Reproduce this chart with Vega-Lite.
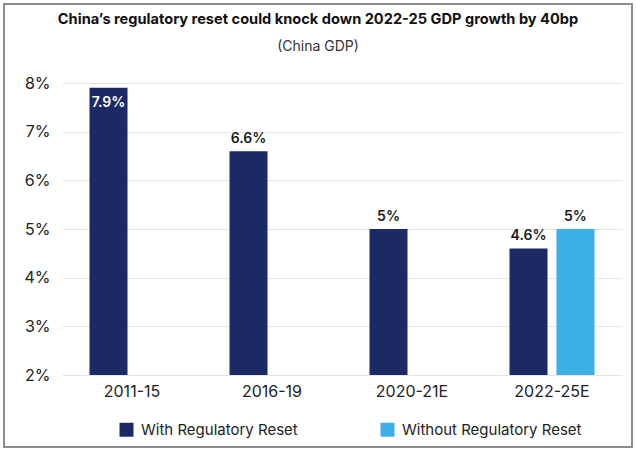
{
  "$schema": "https://vega.github.io/schema/vega-lite/v6.json",
  "width": 628,
  "height": 443,
  "autosize": {"type": "none"},
  "padding": {"left": 4, "top": 4, "right": 4, "bottom": 4},
  "background": "#ffffff",
  "config": {
    "view": {"stroke": "#8c8c8c", "strokeWidth": 2},
    "font": "Inter"
  },
  "title": {
    "text": "China’s regulatory reset could knock down 2022-25 GDP growth by 40bp",
    "subtitle": "(China GDP)",
    "anchor": "middle",
    "frame": "group",
    "offset": -50,
    "font": "Inter",
    "fontSize": 14.6,
    "fontWeight": "bold",
    "color": "#111111",
    "subtitleFont": "Inter",
    "subtitleFontSize": 14,
    "subtitleColor": "#333333",
    "subtitlePadding": 13
  },
  "data": {
    "values": [
      {"period": "2011-15", "series": "With Regulatory Reset", "value": 7.9, "label": "7.9%"},
      {"period": "2016-19", "series": "With Regulatory Reset", "value": 6.6, "label": "6.6%"},
      {"period": "2020-21E", "series": "With Regulatory Reset", "value": 5, "label": "5%"},
      {"period": "2022-25E", "series": "With Regulatory Reset", "value": 4.6, "label": "4.6%"},
      {"period": "2022-25E", "series": "Without Regulatory Reset", "value": 5, "label": "5%"}
    ]
  },
  "encoding": {
    "x": {
      "field": "period",
      "type": "nominal",
      "sort": ["2011-15", "2016-19", "2020-21E", "2022-25E"],
      "scale": {"range": [58, 618], "paddingInner": 0.393, "paddingOuter": 0.1965},
      "axis": {
        "title": null,
        "orient": "bottom",
        "offset": -72,
        "domain": false,
        "ticks": false,
        "grid": false,
        "labelAngle": 0,
        "labelFontSize": 16,
        "labelColor": "#222222",
        "labelPadding": 8
      }
    },
    "xOffset": {
      "field": "series",
      "type": "nominal",
      "sort": ["With Regulatory Reset", "Without Regulatory Reset"],
      "scale": {"paddingInner": 0.191, "paddingOuter": 0}
    },
    "y": {
      "field": "value",
      "type": "quantitative",
      "scale": {"domain": [2, 8], "range": [371, 79], "nice": false, "zero": false},
      "axis": {
        "title": null,
        "values": [2, 3, 4, 5, 6, 7, 8],
        "labelExpr": "datum.value + '%'",
        "offset": -58,
        "domain": false,
        "ticks": false,
        "gridColor": "#e6e6e6",
        "gridWidth": 1,
        "labelFontSize": 16,
        "labelColor": "#222222",
        "labelPadding": 12
      }
    }
  },
  "layer": [
    {
      "mark": {"type": "bar"},
      "encoding": {
        "y2": {"datum": 2},
        "color": {
          "field": "series",
          "type": "nominal",
          "sort": ["With Regulatory Reset", "Without Regulatory Reset"],
          "scale": {"domain": ["With Regulatory Reset", "Without Regulatory Reset"], "range": ["#1b2a64", "#3cb0e6"]},
          "legend": {
            "title": null,
            "orient": "none",
            "legendX": 115,
            "legendY": 418,
            "direction": "horizontal",
            "symbolType": "square",
            "symbolSize": 196,
            "symbolStrokeWidth": 0,
            "labelFontSize": 15,
            "labelColor": "#222222",
            "labelOffset": 7,
            "labelLimit": 0,
            "columnPadding": 82
          }
        }
      }
    },
    {
      "transform": [{"filter": "datum.value < 7.5"}],
      "mark": {"type": "text", "dy": -12, "fontSize": 14, "fontWeight": 600, "color": "#1a1a1a", "baseline": "middle"},
      "encoding": {"text": {"field": "label"}}
    },
    {
      "transform": [{"filter": "datum.value >= 7.5"}],
      "mark": {"type": "text", "dy": 15, "fontSize": 14, "fontWeight": 600, "color": "#ffffff", "baseline": "middle"},
      "encoding": {"text": {"field": "label"}}
    }
  ]
}
